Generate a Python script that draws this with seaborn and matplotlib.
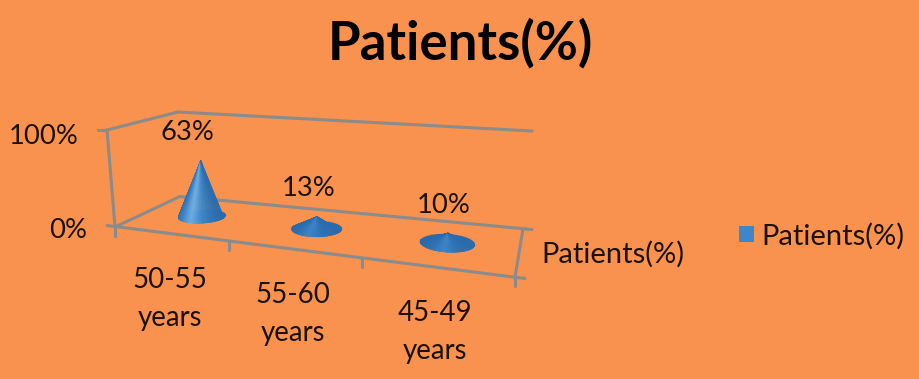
import numpy as np
import matplotlib
matplotlib.use("Agg")
import matplotlib.pyplot as plt
from matplotlib.patches import Patch
import seaborn as sns

# chart values
categories = ["50-55\nyears", "55-60\nyears", "45-49\nyears"]
values = [63, 13, 10]
value_labels = ["63%", "13%", "10%"]
value_ticks = [0, 100]
value_tick_labels = ["0%", "100%"]
series_name = "Patients(%)"
title = "Patients(%)"

# layout of the labels
label_dx = [-13, -8, -4]
cone_scale = 0.95  # cones stop a little short of the box scale

bg = "#F8924E"
grey = "#8B8B8B"
ink = "#1C1209"

sns.set_theme(style="white", rc={"figure.facecolor": bg, "axes.facecolor": bg})
plt.rcParams["font.family"] = ["Lato", "DejaVu Sans"]

fig, ax = plt.subplots(figsize=(9.2, 3.79), dpi=100)
ax.set_position([0, 0, 1, 1])
ax.set_xlim(0, 920)
ax.set_ylim(379, 0)
ax.axis("off")

# floor of the 3d box in picture coordinates
FL = np.array([115.0, 227.0])
FR = np.array([515.0, 277.0])
BL = np.array([180.0, 196.5])
BR = np.array([523.0, 229.0])
# what 100% adds at each floor corner
UP_FL = np.array([-8.0, -97.0])
UP_FR = np.array([10.0, -110.0])
UP_BL = np.array([-2.0, -84.5])
UP_BR = np.array([9.0, -98.0])

A = np.array([FR - BR, BL - BR]).T
g, h = np.linalg.solve(A, BR + FL - FR - BL)
a = FR * (1 + g) - FL
b = BL * (1 + h) - FL


def project(cat, val=0.0, depth=0.0):
    # cat runs 0..n categories, val in percent, depth 0 front .. 1 back
    s = np.asarray(cat, dtype=float) / len(categories)
    s = s + 0.065 * s * (1 - s)
    v = np.asarray(depth, dtype=float)
    w = 1 + g * s + h * v
    x = (FL[0] + a[0] * s + b[0] * v) / w
    y = (FL[1] + a[1] * s + b[1] * v) / w
    hs = np.asarray(val, dtype=float) / 100
    ux = (1 - v) * ((1 - s) * UP_FL[0] + s * UP_FR[0]) + v * ((1 - s) * UP_BL[0] + s * UP_BR[0])
    uy = (1 - v) * ((1 - s) * UP_FL[1] + s * UP_FR[1]) + v * ((1 - s) * UP_BL[1] + s * UP_BR[1])
    return x + ux * hs, y + uy * hs


def edge(p, q):
    sns.lineplot(x=[p[0], q[0]], y=[p[1], q[1]], sort=False, estimator=None,
                 color=grey, lw=2.2, ax=ax, legend=False, zorder=2)


# box
top = value_ticks[1]
edge(project(0, top, 0), project(0, 0, 0))
edge(project(0, top, 0), project(0, top, 1))
edge(project(0, top, 1), (532, 131))
edge(project(0, 0, 0), project(0, 0, 1))
edge(project(0, 0, 1), (532, 229.5))
edge(project(3, 0, 0), project(3, 0, 1))
edge((107, 225.5), (525, 278.5))

# ticks
edge(project(0, top, 0), (project(0, top, 0)[0] - 9, project(0, top, 0)[1]))
for i in range(len(categories) + 1):
    x0, y0 = project(i)
    edge((x0, y0), (x0, y0 + 9))

# value axis labels
for val, lab, xr in zip(value_ticks, value_tick_labels, [87, 79]):
    ax.text(xr, project(0, val)[1] + (3 if val == 0 else 7), lab, ha="right", va="center",
            fontsize=19.7, color=ink)

# cones
tall_shades = sns.blend_palette(["#2A69A8", "#3D83C4", "#6FB2E6", "#3F86C8", "#2B6BAC"], 101)
flat_shades = sns.blend_palette(["#2A69A8", "#2F74B6", "#3F86C8", "#2F74B6", "#2B6BAC"], 101)
theta = np.linspace(0, 2 * np.pi, 145)
for i, (val, vlab) in enumerate(zip(values, value_labels)):
    cx = i + 0.5
    shades = tall_shades if val > 30 else flat_shades
    ex, ey = project(cx + 0.195 * np.cos(theta), 0, 0.5 + 0.2 * np.sin(theta))
    tx, ty = project(cx, val * cone_scale, 0.5)
    ax.fill(ex, ey, color="#2B6BAC", lw=0, zorder=3)
    for k in range(len(theta) - 1):
        if np.sin(theta[k]) > 0.05:
            continue  # back side is hidden
        t = 0.5 + 0.5 * np.cos(theta[k])
        ax.fill([tx, ex[k], ex[k + 1]], [ty, ey[k], ey[k + 1]],
                facecolor=shades[int(t * 100)], edgecolor=shades[int(t * 100)], lw=0.3, zorder=4)
    ax.text(tx + label_dx[i], ty - 28, vlab, ha="center", va="center", fontsize=19.7,
            color=ink, zorder=5)

    lx, ly = project(cx)
    ax.text(lx, ly + 65, categories[i], ha="center", va="center", fontsize=19.9,
            linespacing=1.58, color=ink)

# depth axis label, title, legend
ax.text(541, 254, series_name, ha="left", va="center", fontsize=21, color=ink)
ax.text(460, 43, title, ha="center", va="center", fontsize=38, fontweight="bold", color="black")
ax.legend(handles=[Patch(facecolor="#3F86C8", edgecolor="none", label=series_name)],
          loc="center left", bbox_to_anchor=(739 / 920, 1 - 236 / 379), frameon=False,
          prop={"size": 21}, labelcolor=ink, handlelength=0.51, handleheight=0.51,
          handletextpad=0.26, borderpad=0, borderaxespad=0)

fig.savefig("out.png", dpi=100, facecolor=bg)
